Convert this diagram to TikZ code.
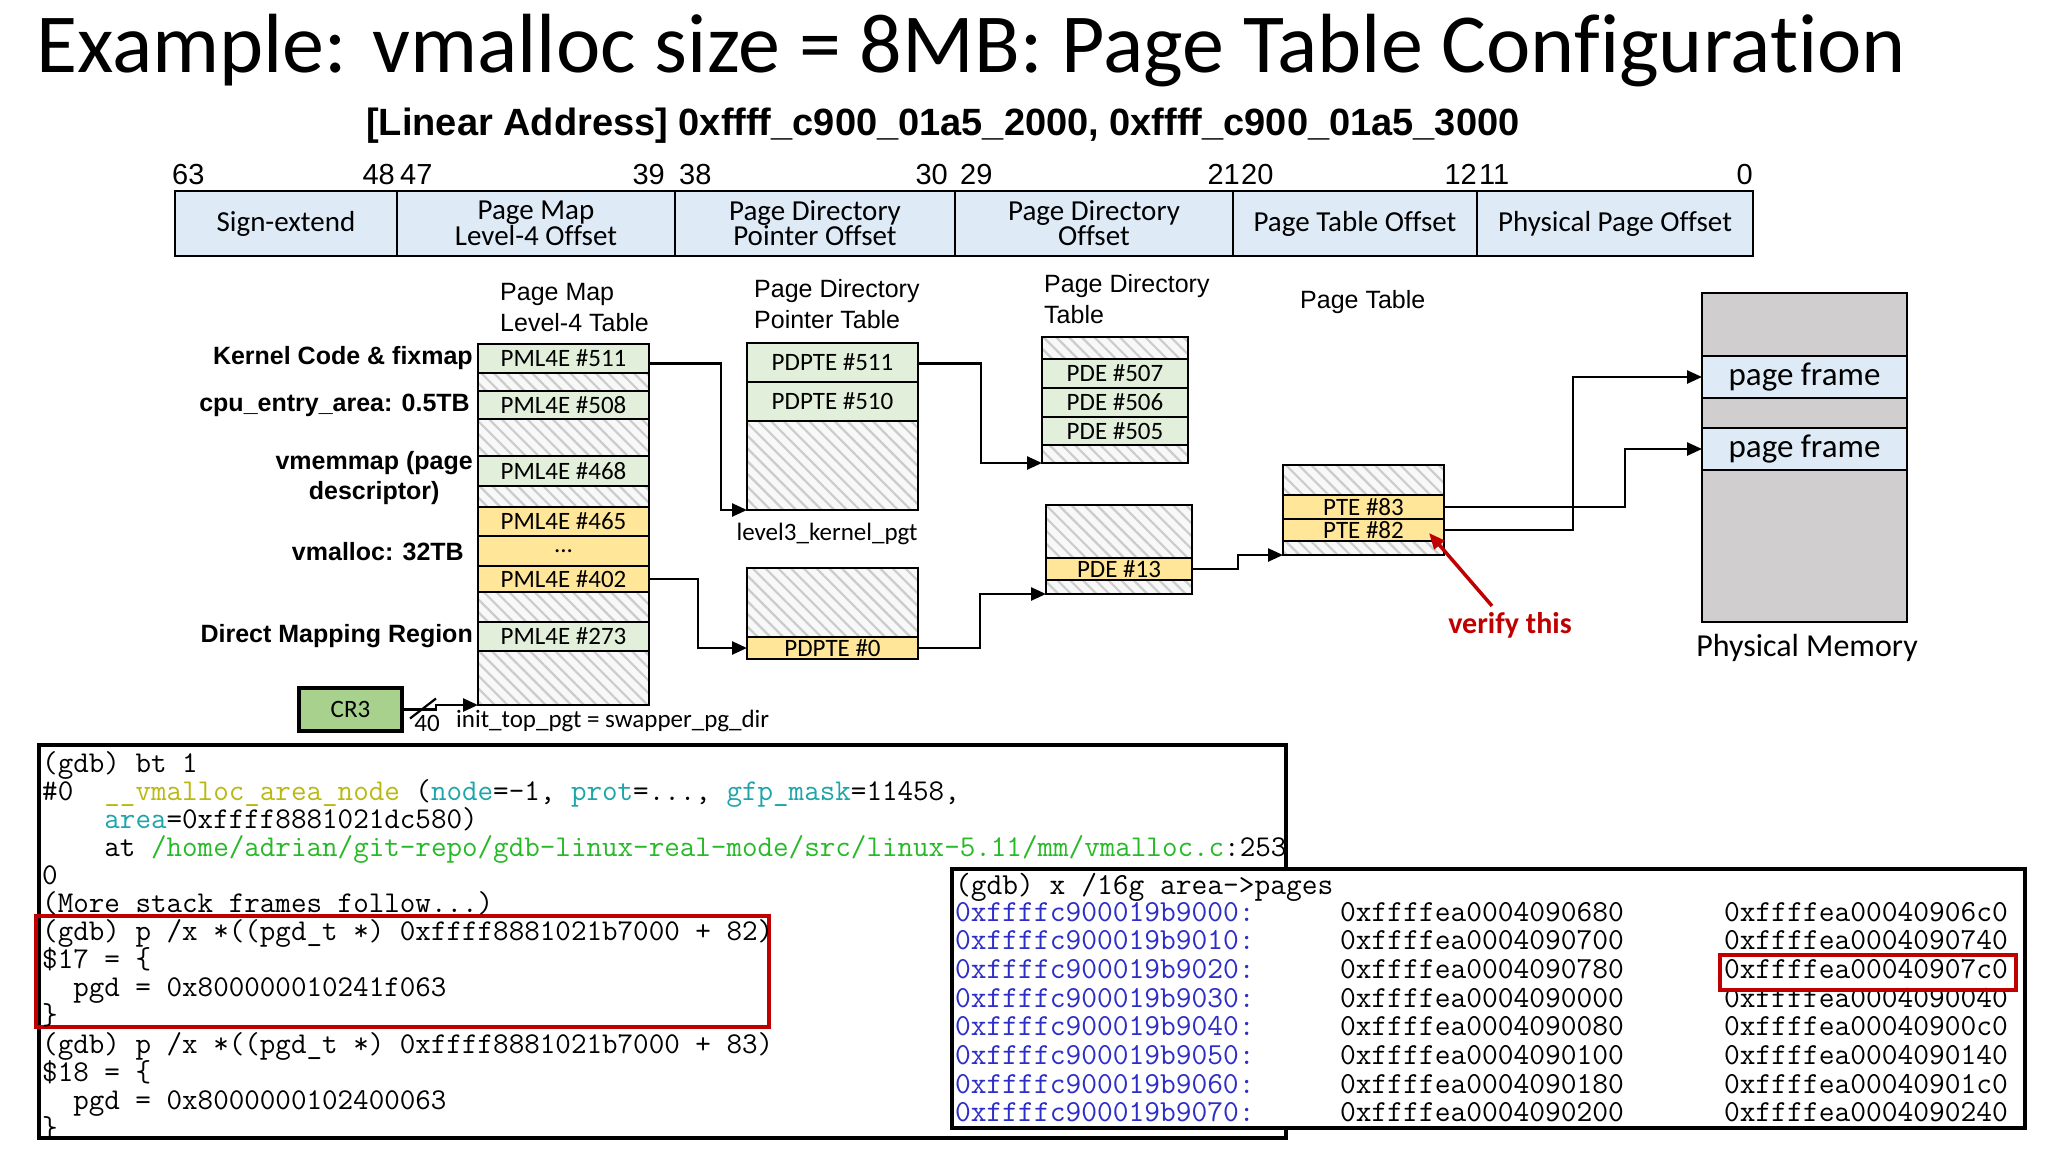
\documentclass[tikz,border=0pt]{standalone}
\usepackage{fontspec}
\setmainfont{Carlito}[Ligatures={TeX,NoCommon}]
\newfontfamily\arialf{Liberation Sans}
\usetikzlibrary{arrows.meta,patterns.meta,calc}
\definecolor{cgreen}{RGB}{226,239,218}
\definecolor{cyellow}{RGB}{255,230,153}
\definecolor{cblue}{RGB}{222,235,247}
\definecolor{cgray}{RGB}{208,206,206}
\definecolor{ccr}{RGB}{169,209,142}
\definecolor{cred}{RGB}{192,0,0}
\definecolor{colive}{RGB}{185,185,20}
\definecolor{cteal}{RGB}{30,165,170}
\definecolor{cpath}{RGB}{40,185,40}
\definecolor{caddr}{RGB}{45,45,200}
\definecolor{hatchbg}{RGB}{248,248,248}
\begin{document}
\begin{tikzpicture}[x=1pt,y=-1pt,
  cell/.style={draw, line width=2.2pt, anchor=north west, inner sep=0pt, outer sep=0pt, font=\fontsize{25}{25}\selectfont},
  hatchcell/.style={cell, preaction={fill=hatchbg}, pattern={Lines[angle=-45,distance=9pt,line width=2.2pt]}, pattern color=black!20},
  grn/.style={cell, fill=cgreen},
  ylw/.style={cell, fill=cyellow},
  bar/.style={cell, fill=cblue, align=center, font=\fontsize{29}{25}\selectfont, minimum height=65pt},
  bitn/.style={inner sep=0pt, font=\arialf\fontsize{29}{30}\selectfont},
  hdr/.style={inner sep=0pt, anchor=west, align=left, font=\arialf\fontsize{25}{31}\selectfont},
  lbl/.style={inner sep=0pt, anchor=east, align=center, font=\arialf\bfseries\fontsize{25}{30}\selectfont},
  conn/.style={draw, line width=2.5pt, -{Triangle[length=15pt,width=13pt]}},
  codeA/.style={inner sep=0pt, anchor=base west, font=\ttfamily\fontsize{30.2}{30}\selectfont\frenchspacing},
  codeB/.style={inner sep=0pt, anchor=base west, font=\ttfamily\fontsize{30.6}{30}\selectfont\frenchspacing},
  txt/.style={inner sep=0pt, font=\fontsize{25}{25}\selectfont}
]
\useasboundingbox (0,0) rectangle (2048,1152);

% Title
\node[anchor=base west, inner sep=0pt, font=\fontsize{84}{90}\selectfont] (title) at (36,72) {Example: vmalloc size = 8MB: Page Table Configuration};
\node[anchor=base, inner sep=0pt, font=\arialf\bfseries\fontsize{38}{40}\selectfont] (sub) at (943,135) {[Linear Address] 0xffff\_c900\_01a5\_2000, 0xffff\_c900\_01a5\_3000};

% bit numbers
\node[bitn, anchor=base west] (b63) at (172,184) {63};
\node[bitn, anchor=base east] (b48) at (395,184) {48};
\node[bitn, anchor=base west] (b47) at (400,184) {47};
\node[bitn, anchor=base east] (b39) at (665,184) {39};
\node[bitn, anchor=base west] (b38) at (679,184) {38};
\node[bitn, anchor=base east] (b30) at (948,184) {30};
\node[bitn, anchor=base west] (b29) at (960,184) {29};
\node[bitn, anchor=base east] (b21) at (1240,184) {21};
\node[bitn, anchor=base west] (b20) at (1241,184) {20};
\node[bitn, anchor=base east] (b12) at (1477,184) {12};
\node[bitn, anchor=base west] (b11) at (1479,184) {11};
\node[bitn, anchor=base east] (b0) at (1753,184) {0};

% address bar
\node[bar, minimum width=222pt] (a1) at (175,191) {Sign-extend};
\node[bar, minimum width=278pt] (a2) at (397,191) {Page Map\\Level-4 Offset};
\node[bar, minimum width=280pt] (a3) at (675,191) {Page Directory\\Pointer Offset};
\node[bar, minimum width=278pt] (a4) at (955,191) {Page Directory\\Offset};
\node[bar, minimum width=244pt] (a5) at (1233,191) {Page Table Offset};
\node[bar, minimum width=276pt] (a6) at (1477,191) {Physical Page Offset};

% headers
\node[hdr] (h1) at (500,308) {Page Map\\Level-4 Table};
\node[hdr] (h2) at (754,304) {Page Directory\\Pointer Table};
\node[hdr] (h3) at (1044,299) {Page Directory\\Table};
\node[hdr] (h4) at (1300,302) {Page Table};

% left labels
\node[lbl] (lk) at (473,358) {Kernel Code \& fixmap};
\node[lbl] (lc) at (470,405) {cpu\_entry\_area: 0.5TB};
\node[lbl] (lv) at (473,478) {vmemmap (page\\descriptor)};
\node[lbl] (lm) at (464,552) {vmalloc: 32TB};
\node[lbl] (ld) at (473,636) {Direct Mapping Region};

% PML4 table
\begin{scope}[every node/.append style={minimum width=171pt}]
\node[grn, minimum height=29pt] (p511) at (478,344) {PML4E \#511};
\node[hatchcell, minimum height=18pt] (pH1) at (478,373) {};
\node[grn, minimum height=28pt] (p508) at (478,391) {PML4E \#508};
\node[hatchcell, minimum height=37pt] (pH2) at (478,419) {};
\node[grn, minimum height=30pt] (p468) at (478,456) {PML4E \#468};
\node[hatchcell, minimum height=21pt] (pH3) at (478,486) {};
\node[ylw, minimum height=29pt] (p465) at (478,507) {PML4E \#465};
\node[ylw, minimum height=30pt] (pdots) at (478,536) {...};
\node[ylw, minimum height=26pt] (p402) at (478,566) {PML4E \#402};
\node[hatchcell, minimum height=30pt] (pH4) at (478,592) {};
\node[grn, minimum height=29pt] (p273) at (478,622) {PML4E \#273};
\node[hatchcell, minimum height=54pt] (pH5) at (478,651) {};
% PDPT tables
\node[grn, minimum height=39pt] (q511) at (747,343) {PDPTE \#511};
\node[grn, minimum height=39pt] (q510) at (747,382) {PDPTE \#510};
\node[hatchcell, minimum height=89pt] (qH1) at (747,421) {};
\node[hatchcell, minimum height=69pt] (qH2) at (747,568) {};
\node[ylw, minimum height=22pt] (q0) at (747,637) {PDPTE \#0};
\end{scope}

% PD tables
\begin{scope}[every node/.append style={minimum width=146pt}]
\node[hatchcell, minimum height=22pt] (dH1) at (1042,337) {};
\node[grn, minimum height=29pt] (d507) at (1042,359) {PDE \#507};
\node[grn, minimum height=29pt] (d506) at (1042,388) {PDE \#506};
\node[grn, minimum height=28pt] (d505) at (1042,417) {PDE \#505};
\node[hatchcell, minimum height=18pt] (dH2) at (1042,445) {};
\node[hatchcell, minimum height=53pt] (dH3) at (1046,505) {};
\node[ylw, minimum height=22pt] (d13) at (1046,558) {PDE \#13};
\node[hatchcell, minimum height=14pt] (dH4) at (1046,580) {};
\end{scope}

% PT
\begin{scope}[every node/.append style={minimum width=161pt}]
\node[hatchcell, minimum height=30pt] (tH1) at (1283,465) {};
\node[ylw, minimum height=24pt] (t83) at (1283,495) {PTE \#83};
\node[ylw, minimum height=22pt] (t82) at (1283,519) {PTE \#82};
\node[hatchcell, minimum height=14pt] (tH2) at (1283,541) {};
\end{scope}

% physical memory
\node[cell, fill=cgray, minimum width=205pt, minimum height=329pt] (pm) at (1702,293) {};
\node[cell, fill=cblue, minimum width=205pt, minimum height=42pt, font=\fontsize{33}{33}\selectfont] (fr1) at (1702,356) {page frame};
\node[cell, fill=cblue, minimum width=205pt, minimum height=42pt, font=\fontsize{33}{33}\selectfont] (fr2) at (1702,428) {page frame};
\node[inner sep=0pt, font=\fontsize{32}{32}\selectfont] (pmlab) at (1807,648) {Physical Memory};

\node[txt] (l3) at (827,534) {level3\_kernel\_pgt};

% connectors
\draw[conn] ([yshift=-5pt]p511.east) -- ++(72,0) |- (qH1.south west);
\draw[conn] ([yshift=-1pt]q511.east) -- ++(63,0) |- (dH2.south west);
\draw[conn] (p402.east) -- ++(49,0) |- (q0.west);
\draw[conn] (q0.east) -- ++(62,0) |- (dH4.south west);
\draw[conn] (d13.east) -- ++(46,0) |- (tH2.south west);
\draw[conn] (t83.east) -- ++(181,0) |- (fr2.west);
\draw[conn] (t82.east) -- ++(129,0) |- (fr1.west);

% verify this
\node[inner sep=0pt, text=cred, font=\bfseries\fontsize{30}{30}\selectfont] (verify) at (1510,625) {verify this};
\draw[line width=3.5pt, draw=cred, -{Triangle[length=16pt,width=13pt]}] ([xshift=-18pt,yshift=6pt]verify.north) -- ([xshift=-15pt,yshift=8pt]t82.south east);

% CR3
\node[cell, fill=ccr, line width=4pt, minimum width=103pt, minimum height=43pt] (cr3) at (299,688) {CR3};
\draw[conn] (cr3.east) -- ++(34,0) |- (pH5.south west);
\draw[line width=2.2pt] ($(cr3.east)+(8,9)$) -- ++(26,-20);
\node[txt] (n40) at (427,723) {40};
\node[txt, anchor=west] (itp) at (456,721) {init\_top\_pgt = swapper\_pg\_dir};

% gdb box 1
\node[draw, line width=4pt, anchor=north west, inner sep=0pt, outer sep=0pt, minimum width=1247pt, minimum height=393pt] (g1) at (39,745) {};
\node[draw=cred, line width=4pt, anchor=north west, inner sep=0pt, outer sep=0pt, minimum width=733pt, minimum height=111pt] (r1) at (36,916) {};
\node[codeA] (c1) at (42,772.0) {(gdb) bt 1};
\node[codeA] (c2) at (42,800.1) {\#0~~{\color{colive}\_\_vmalloc\_area\_node} ({\color{cteal}node}=-1, {\color{cteal}prot}=..., {\color{cteal}gfp\_mask}=11458,};
\node[codeA] (c3) at (42,828.2) {~~~~{\color{cteal}area}=0xffff8881021dc580)};
\node[codeA] (c4) at (42,856.3) {~~~~at {\color{cpath}/home/adrian/git-repo/gdb-linux-real-mode/src/linux-5.11/mm/vmalloc.c}:253};
\node[codeA] (c5) at (42,884.4) {0};
\node[codeA] (c6) at (42,912.5) {(More stack frames follow...)};
\node[codeA] (c7) at (42,940.6) {(gdb) p /x *((pgd\_t *) 0xffff8881021b7000 + 82)};
\node[codeA] (c8) at (42,968.7) {\$17 = \{};
\node[codeA] (c9) at (42,996.8) {~~pgd = 0x800000010241f063};
\node[codeA] (c10) at (42,1024.9) {\}};
\node[codeA] (c11) at (42,1053.0) {(gdb) p /x *((pgd\_t *) 0xffff8881021b7000 + 83)};
\node[codeA] (c12) at (42,1081.1) {\$18 = \{};
\node[codeA] (c13) at (42,1109.2) {~~pgd = 0x8000000102400063};
\node[codeA] (c14) at (42,1137.3) {\}};

% gdb box 2
\node[draw, fill=white, line width=4pt, anchor=north west, inner sep=0pt, outer sep=0pt, minimum width=1073pt, minimum height=259pt] (g2) at (952,869) {};
\node[codeB] (e0) at (955,894) {(gdb) x /16g area->pages};
\node[codeB, text=caddr] (x0) at (955,921.0) {0xffffc900019b9000:};
\node[codeB, text=caddr] (x1) at (955,949.7) {0xffffc900019b9010:};
\node[codeB, text=caddr] (x2) at (955,978.4) {0xffffc900019b9020:};
\node[codeB, text=caddr] (x3) at (955,1007.1) {0xffffc900019b9030:};
\node[codeB, text=caddr] (x4) at (955,1035.8) {0xffffc900019b9040:};
\node[codeB, text=caddr] (x5) at (955,1064.5) {0xffffc900019b9050:};
\node[codeB, text=caddr] (x6) at (955,1093.2) {0xffffc900019b9060:};
\node[codeB, text=caddr] (x7) at (955,1121.9) {0xffffc900019b9070:};
\node[codeB] (y0) at (1340,921.0) {0xffffea0004090680};
\node[codeB] (y1) at (1340,949.7) {0xffffea0004090700};
\node[codeB] (y2) at (1340,978.4) {0xffffea0004090780};
\node[codeB] (y3) at (1340,1007.1) {0xffffea0004090000};
\node[codeB] (y4) at (1340,1035.8) {0xffffea0004090080};
\node[codeB] (y5) at (1340,1064.5) {0xffffea0004090100};
\node[codeB] (y6) at (1340,1093.2) {0xffffea0004090180};
\node[codeB] (y7) at (1340,1121.9) {0xffffea0004090200};
\node[codeB] (z0) at (1724,921.0) {0xffffea00040906c0};
\node[codeB] (z1) at (1724,949.7) {0xffffea0004090740};
\node[codeB] (z2) at (1724,978.4) {0xffffea00040907c0};
\node[codeB] (z3) at (1724,1007.1) {0xffffea0004090040};
\node[codeB] (z4) at (1724,1035.8) {0xffffea00040900c0};
\node[codeB] (z5) at (1724,1064.5) {0xffffea0004090140};
\node[codeB] (z6) at (1724,1093.2) {0xffffea00040901c0};
\node[codeB] (z7) at (1724,1121.9) {0xffffea0004090240};
\node[draw=cred, line width=3.5pt, anchor=north west, inner sep=0pt, outer sep=0pt, minimum width=296pt, minimum height=35pt] (r2) at (1720,955) {};
\end{tikzpicture}
\end{document}
